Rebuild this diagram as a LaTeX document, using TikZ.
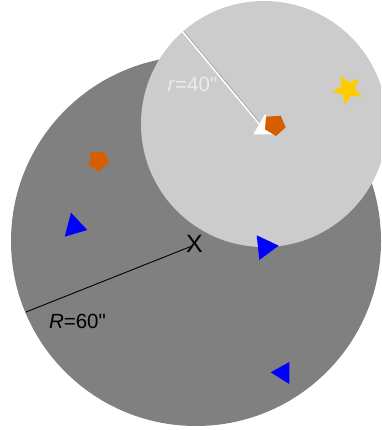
\documentclass[tikz,border=0pt]{standalone}
\usepackage{fontspec}
\setmainfont{Liberation Sans}[Ligatures=TeXOff]
\definecolor{darkdisc}{HTML}{808080}
\definecolor{lightdisc}{HTML}{CCCCCC}
\definecolor{mblue}{HTML}{0000FF}
\definecolor{morange}{HTML}{D55E00}
\definecolor{myellow}{HTML}{FFCC00}
\definecolor{lbl}{HTML}{EBEBEB}
\begin{document}
\begin{tikzpicture}[x=1pt,y=-1pt,
  blueTri/.style={fill=mblue,draw=none},
  pent/.style={fill=morange,draw=none},
  lab/.style={font=\fontsize{20.5}{24}\selectfont,inner sep=0pt}]
\useasboundingbox (0,0) rectangle (381,430);
\begin{scope}
\clip (0,0) rectangle (381,430);
\fill[darkdisc] (196,241) circle[radius=185];
\fill[lightdisc] (264,124) circle[radius=123];
\end{scope}
% big radius
\node[lab,font=\fontsize{25}{28}\selectfont] (cx) at (194.5,244) {X};
\coordinate (rend) at (26,312);
\coordinate (rstart) at (192,246);
\draw[black,line width=0.9pt] (rstart) -- (rend);
\node[lab,anchor=base] (Rl) at (77.5,328) {\textit{R}=60"};
% small radius
\coordinate (sA) at (182,31);
\coordinate (sB) at (261,126);
\draw[gray!90,line width=0.8pt] ([xshift=1.3pt]sA) -- ([xshift=1.3pt]sB);
\draw[white,line width=1.6pt] (sA) -- (sB);
\node[lab,anchor=base,text=lbl] (rl) at (192.5,92) {\textit{r}=40"};
% markers
\fill[white] (265,114) -- (253.3,134.3) -- (276.5,134.3) -- cycle;
\fill[pent] (266,116.7) -- (280.7,115.7) -- (285.7,127.3) -- (276,136) -- (265,129.3) -- cycle;
\fill[pent] (90.7,152.3) -- (104.3,151.7) -- (109,162.3) -- (99.3,171.3) -- (89,165.3) -- cycle;
\fill[blueTri] (71,212.7) -- (87.3,230) -- (64.7,236.7) -- cycle;
\fill[blueTri] (256.7,235.3) -- (278.7,245.7) -- (259.3,260) -- cycle;
\fill[blueTri] (289.3,362) -- (270.7,372.3) -- (289.3,384) -- cycle;
% star
\fill[myellow] plot[samples at={0,...,9}] ({347.7+ifthenelse(mod(\x,2)==0,15.5,7.2)*cos(116-36*\x)},{89.5-ifthenelse(mod(\x,2)==0,15.5,7.2)*sin(116-36*\x)}) -- cycle;
\end{tikzpicture}
\end{document}
